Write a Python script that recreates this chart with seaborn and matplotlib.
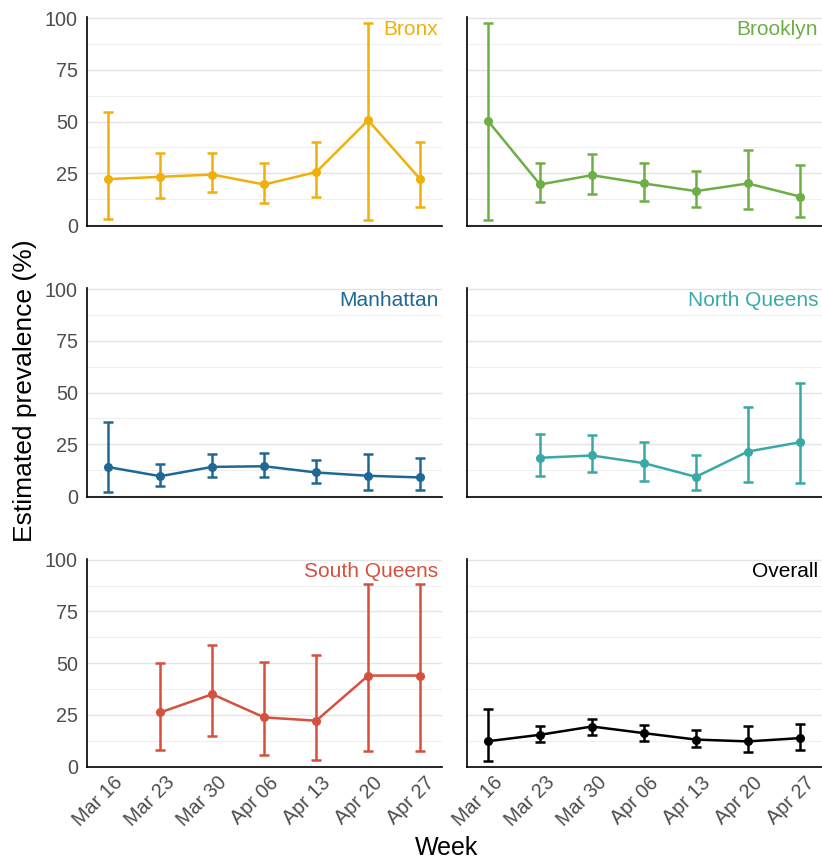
import numpy as np
import pandas as pd
import matplotlib
matplotlib.use("Agg")
import matplotlib.pyplot as plt
import matplotlib.transforms as mtransforms
import seaborn as sns

# weeks on the x axis
weeks = ["Mar 16", "Mar 23", "Mar 30", "Apr 06", "Apr 13", "Apr 20", "Apr 27"]
regions = ["Bronx", "Brooklyn", "Manhattan", "North Queens", "South Queens", "Overall"]
colors = ["#EFB00B", "#6DAE45", "#1F6896", "#38A9A7", "#D5503E", "#000000"]

# estimates and interval bounds (%)
bronx_est = [22.2, 23.3, 24.4, 19.6, 25.6, 50.6, 22.2]
bronx_lo = [2.9, 13.0, 15.8, 10.6, 13.4, 2.6, 8.5]
bronx_hi = [54.5, 34.9, 34.6, 30.2, 40.0, 97.6, 39.9]

brooklyn_est = [50.3, 19.6, 24.1, 20.1, 16.4, 20.1, 13.8]
brooklyn_lo = [2.5, 11.1, 15.1, 11.7, 8.5, 7.7, 3.7]
brooklyn_hi = [97.6, 29.9, 34.4, 30.2, 25.9, 36.3, 28.9]

manhattan_est = [14.0, 9.6, 14.1, 14.4, 11.4, 9.8, 9.0]
manhattan_lo = [2.1, 5.1, 9.0, 9.0, 6.3, 3.0, 2.7]
manhattan_hi = [35.6, 15.4, 20.2, 20.7, 17.5, 20.5, 18.6]

nqueens_est = [np.nan, 18.5, 19.6, 15.9, 9.3, 21.5, 26.0]
nqueens_lo = [np.nan, 9.5, 11.4, 7.5, 2.7, 6.6, 6.4]
nqueens_hi = [np.nan, 30.0, 29.7, 26.2, 19.6, 42.9, 54.4]

squeens_est = [np.nan, 26.2, 35.0, 23.8, 22.2, 44.0, 44.0]
squeens_lo = [np.nan, 8.0, 14.9, 5.8, 3.0, 7.4, 7.5]
squeens_hi = [np.nan, 50.2, 58.9, 50.4, 53.9, 88.3, 88.3]

overall_est = [12.3, 15.4, 19.4, 16.2, 13.1, 12.2, 13.8]
overall_lo = [2.7, 11.7, 15.4, 12.3, 9.6, 7.0, 8.0]
overall_hi = [27.7, 19.7, 23.2, 20.3, 17.6, 19.5, 20.6]

series = {
    "Bronx": (bronx_est, bronx_lo, bronx_hi),
    "Brooklyn": (brooklyn_est, brooklyn_lo, brooklyn_hi),
    "Manhattan": (manhattan_est, manhattan_lo, manhattan_hi),
    "North Queens": (nqueens_est, nqueens_lo, nqueens_hi),
    "South Queens": (squeens_est, squeens_lo, squeens_hi),
    "Overall": (overall_est, overall_lo, overall_hi),
}

rows = []
for reg in regions:
    est, lo, hi = series[reg]
    for i, w in enumerate(weeks):
        rows.append({"region": reg, "week": w, "x": i, "est": est[i], "lo": lo[i], "hi": hi[i]})
df = pd.DataFrame(rows)

sns.set_theme(style="white")
plt.rcParams["font.family"] = ["Liberation Sans", "DejaVu Sans"]

fig = plt.figure(figsize=(8.22, 8.63), dpi=100)

W, H = 822, 863
col_left = [87, 466.7]
col_w = 355
row_bottom = [225.7, 496.7, 767.3]
row_h = 208.5

for k, reg in enumerate(regions):
    r, c = divmod(k, 2)
    ax = fig.add_axes([col_left[c] / W, 1 - row_bottom[r] / H, col_w / W, row_h / H])
    sub = df[df["region"] == reg].dropna()
    col = colors[k]

    ax.errorbar(sub["x"], sub["est"], yerr=[sub["est"] - sub["lo"], sub["hi"] - sub["est"]],
                fmt="none", ecolor=col, elinewidth=1.8, capsize=3.8, capthick=1.8, zorder=3)
    sns.lineplot(data=sub, x="x", y="est", ax=ax, color=col, linewidth=1.8,
                 marker="o", markersize=6.5, markeredgewidth=0, zorder=4)

    ax.set_xlim(-0.41, 6.42)
    ax.set_ylim(-0.3, 100.4)
    ax.set_yticks([0, 25, 50, 75, 100])
    ax.set_yticks([12.5, 37.5, 62.5, 87.5], minor=True)
    ax.grid(axis="y", which="major", color="#E4E4E4", linewidth=1.0)
    ax.grid(axis="y", which="minor", color="#EFEFEF", linewidth=0.8)
    ax.grid(axis="x", visible=False)
    ax.set_axisbelow(True)
    for s in ["top", "right"]:
        ax.spines[s].set_visible(False)
    for s in ["left", "bottom"]:
        ax.spines[s].set_color("black")
        ax.spines[s].set_linewidth(1.2)

    ax.set_xticks(range(len(weeks)))
    ax.tick_params(axis="both", which="both", length=0)
    ax.tick_params(axis="y", pad=6.5, labelsize=14.2, labelcolor="#4D4D4D")
    if c == 0:
        ax.set_yticklabels(["0", "25", "50", "75", "100"])
    else:
        ax.set_yticklabels([])
    if r == 2:
        ax.set_xticklabels(weeks, rotation=45, ha="right", va="top",
                           rotation_mode="anchor", fontsize=14.2, color="#4D4D4D")
        off = mtransforms.ScaledTranslation(0.05, -0.01, fig.dpi_scale_trans)
        for lab in ax.get_xticklabels():
            lab.set_transform(lab.get_transform() + off)
    else:
        ax.set_xticklabels([])
    ax.set_xlabel("")
    ax.set_ylabel("")

    ax.text(0.99, 0.985, reg, transform=ax.transAxes, ha="right", va="top",
            fontsize=15, color=col)

fig.text(25 / W, 1 - 391 / H, "Estimated prevalence (%)", rotation=90,
         ha="center", va="center", fontsize=19, color="black")
fig.text(447 / W, 1 - 848 / H, "Week", ha="center", va="center",
         fontsize=18, color="black")

fig.savefig("out.png", dpi=100)
